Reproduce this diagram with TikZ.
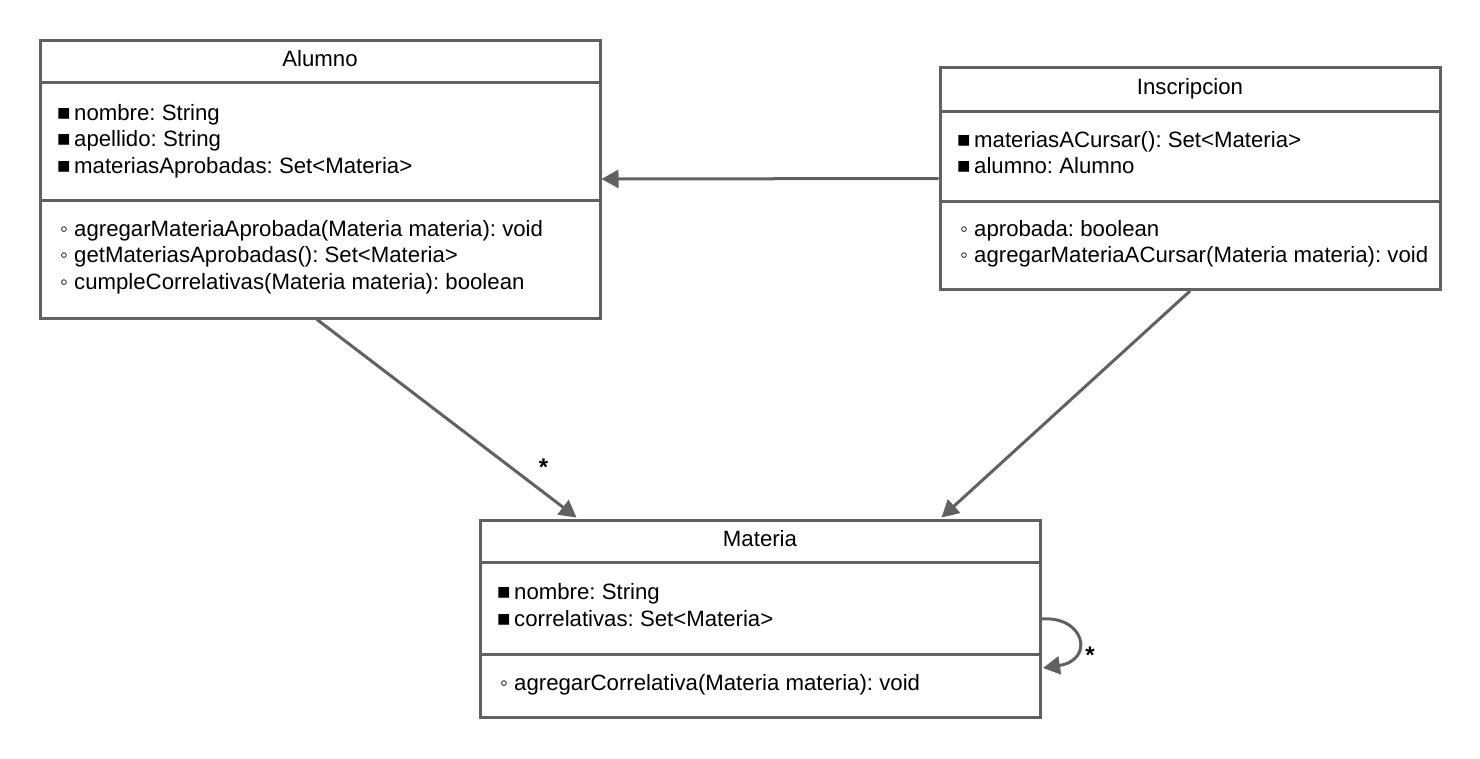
\documentclass[tikz,border=0pt]{standalone}
\usepackage{fontspec}
\setmainfont{Liberation Sans}
\usetikzlibrary{arrows.meta}
\definecolor{umlgray}{RGB}{97,97,97}
\newcommand\attrb[1]{\makebox[17pt][l]{■}#1}
\newcommand\methb[1]{\makebox[17pt][l]{\hspace{3pt}◦}#1}
\frenchspacing
\begin{document}
\begin{tikzpicture}[x=1pt,y=-1pt,
  cls/.style={draw=umlgray, line width=3pt, rectangle, inner sep=0pt, outer sep=1.5pt, anchor=north west},
  divline/.style={draw=umlgray, line width=3pt},
  txt/.style={inner sep=0pt, anchor=base west, font=\fontsize{22.2}{26}\selectfont},
  ttl/.style={inner sep=0pt, anchor=base, font=\fontsize{22.2}{26}\selectfont},
  mult/.style={inner sep=0pt, anchor=base, font=\fontsize{24}{26}\selectfont\bfseries},
  conn/.style={draw=umlgray, line width=3pt, -{Triangle[length=17pt,width=18pt]}}]
\fill[white] (0,0) rectangle (1480,758);
\useasboundingbox (0,0) rectangle (1480,758);

% Alumno
\node[cls, minimum width=560pt, minimum height=278pt] (alumno) at (38.5,38.5) {};
\draw[divline] (40,82) -- (600,82);
\draw[divline] (40,200) -- (600,200);
\node[ttl] (alumnoT) at (320,66) {Alumno};
\node[txt] (alumnoA1) at (57,120) {\attrb{nombre: String}};
\node[txt] (alumnoA2) at (57,146) {\attrb{apellido: String}};
\node[txt] (alumnoA3) at (57,173) {\attrb{materiasAprobadas: Set<Materia>}};
\node[txt] (alumnoM1) at (57,236) {\methb{agregarMateriaAprobada(Materia materia): void}};
\node[txt] (alumnoM2) at (57,262) {\methb{getMateriasAprobadas(): Set<Materia>}};
\node[txt] (alumnoM3) at (57,289) {\methb{cumpleCorrelativas(Materia materia): boolean}};

% Inscripcion
\node[cls, minimum width=500pt, minimum height=222pt] (inscripcion) at (938.5,66) {};
\draw[divline] (940,111) -- (1440,111);
\draw[divline] (940,201.5) -- (1440,201.5);
\node[ttl] (inscripcionT) at (1190,94) {Inscripcion};
\node[txt] (inscripcionA1) at (957,147) {\attrb{materiasACursar(): Set<Materia>}};
\node[txt] (inscripcionA2) at (957,173) {\attrb{alumno: Alumno}};
\node[txt] (inscripcionM1) at (957,236) {\methb{aprobada: boolean}};
\node[txt] (inscripcionM2) at (957,262) {\methb{agregarMateriaACursar(Materia materia): void}};

% Materia
\node[cls, minimum width=560pt, minimum height=197pt] (materia) at (478.5,519) {};
\draw[divline] (480,562) -- (1040,562);
\draw[divline] (480,654.5) -- (1040,654.5);
\node[ttl] (materiaT) at (760,546) {Materia};
\node[txt] (materiaA1) at (497,599) {\attrb{nombre: String}};
\node[txt] (materiaA2) at (497,626) {\attrb{correlativas: Set<Materia>}};
\node[txt] (materiaM1) at (497,690) {\methb{agregarCorrelativa(Materia materia): void}};

% connectors
\draw[conn] (inscripcion.west) -- (alumno.east);
\draw[conn] ([xshift=-3pt]alumno.south) -- ([xshift=98pt,yshift=1.5pt]materia.north west);
\draw[conn] (inscripcion.south) -- ([xshift=-100pt,yshift=1.5pt]materia.north east);
\draw[conn] ([xshift=-1.5pt]materia.east) .. controls (1085,615) and (1095,660) .. ([xshift=1.5pt,yshift=-49pt]materia.east);

\node[mult] (multA) at (543.5,475) {*};
\node[mult] (multM) at (1090,663) {*};
\end{tikzpicture}
\end{document}
